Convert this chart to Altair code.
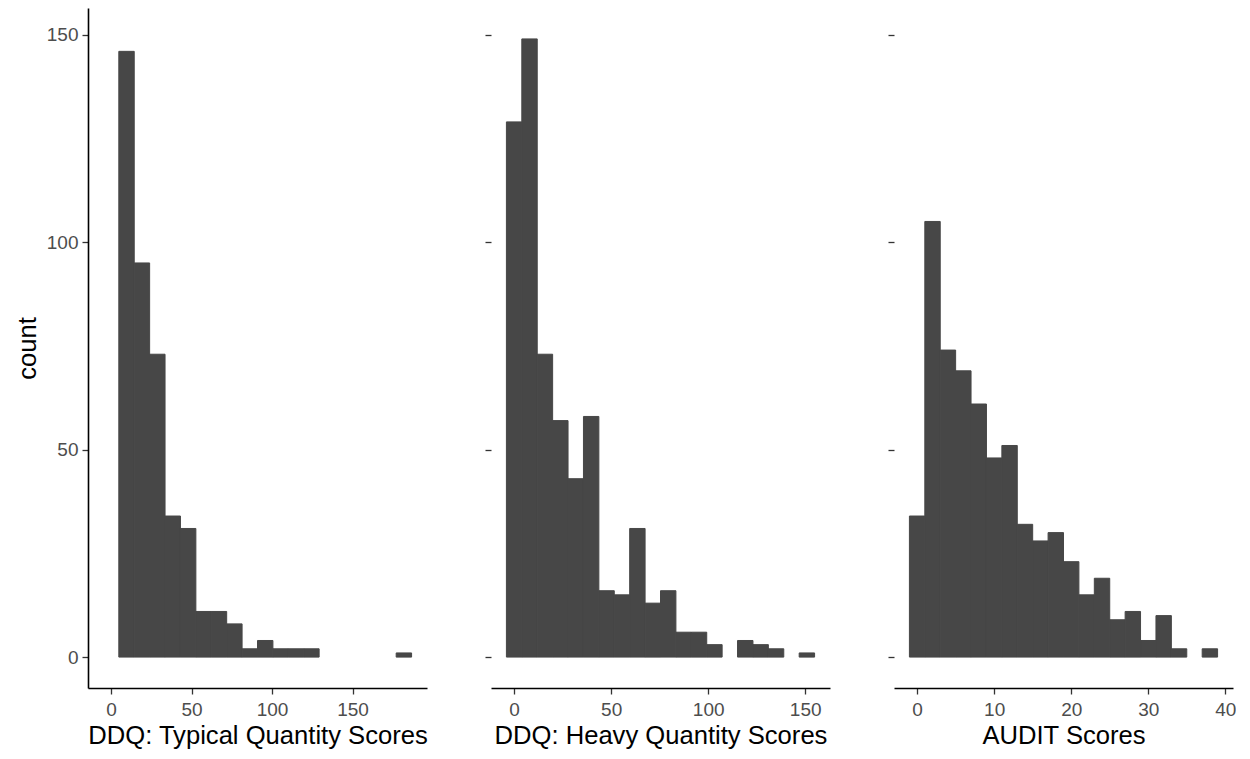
import altair as alt
import pandas as pd

# ---- data (histogram bin counts) ----
typical_counts = [0, 146, 95, 73, 34, 31, 11, 11, 8, 2, 4, 2, 2, 2, 0, 0, 0, 0, 0, 1]
typical_first_edge = -4.79
typical_bin_width = 9.575

heavy_counts = [129, 149, 73, 57, 43, 58, 16, 15, 31, 13, 16, 6, 6, 3, 0, 4, 3, 2, 0, 1]
heavy_first_edge = -3.97
heavy_bin_width = 7.94

audit_counts = [34, 105, 74, 69, 61, 48, 51, 32, 28, 30, 23, 15, 19, 9, 11, 4, 10, 2, 0, 2]
audit_first_edge = -1.0
audit_bin_width = 2.0

typical_ticks = [0, 50, 100, 150]
heavy_ticks = [0, 50, 100, 150]
audit_ticks = [0, 10, 20, 30, 40]
y_ticks = [0, 50, 100, 150]

typical_title = "DDQ: Typical Quantity Scores"
heavy_title = "DDQ: Heavy Quantity Scores"
audit_title = "AUDIT Scores"

BAR = "#474747"
FONT = "Liberation Sans"
W, H = 339, 680
Y_DOMAIN = [-7.45, 156.45]


def make_df(counts, first, width):
    return pd.DataFrame({
        "bin_start": [first + i * width for i in range(len(counts))],
        "bin_end": [first + (i + 1) * width for i in range(len(counts))],
        "count": counts,
    })


def panel(counts, first, width, title, ticks, show_y):
    df = make_df(counts, first, width)
    lo = df["bin_start"].min()
    hi = df["bin_end"].max()
    pad = 0.05 * (hi - lo)
    xdomain = [lo - pad, hi + pad]

    yaxis_kwargs = dict(values=y_ticks, ticks=True, tickSize=6, grid=False)
    if show_y:
        yaxis_kwargs.update(title="count", labels=True, domain=True,
                            labelPadding=4, titlePadding=6)
    else:
        yaxis_kwargs.update(title="", labels=False, domain=False)

    return (
        alt.Chart(df)
        .transform_filter("datum.count > 0")
        .transform_calculate(zero="0")
        .mark_rect(color=BAR, stroke=BAR, strokeWidth=1)
        .encode(
            x=alt.X("bin_start:Q",
                    scale=alt.Scale(domain=xdomain, nice=False, zero=False),
                    axis=alt.Axis(values=ticks, title=title, grid=False,
                                  tickSize=6, labelPadding=6, titlePadding=4)),
            x2="bin_end:Q",
            y=alt.Y("count:Q",
                    scale=alt.Scale(domain=Y_DOMAIN, nice=False, zero=False),
                    axis=alt.Axis(**yaxis_kwargs)),
            y2="zero:Q",
        )
        .properties(width=W, height=H)
    )


p1 = panel(typical_counts, typical_first_edge, typical_bin_width, typical_title, typical_ticks, True)
p2 = panel(heavy_counts, heavy_first_edge, heavy_bin_width, heavy_title, heavy_ticks, False)
p3 = panel(audit_counts, audit_first_edge, audit_bin_width, audit_title, audit_ticks, False)

chart = (
    alt.hconcat(p1, p2, p3, spacing=64, bounds="flush")
    .properties(padding={"left": 7, "top": 0, "right": 0, "bottom": 0},
                background="white")
    .configure_view(stroke=None)
    .configure_axis(
        labelFont=FONT, labelFontSize=19, labelColor="#4D4D4D",
        titleFont=FONT, titleFontSize=25.6, titleColor="#000000", titleFontWeight="normal",
        domainColor="#000000", domainWidth=1.6,
        tickColor="#333333", tickWidth=1.3,
    )
)

chart.save("out.html", embed_options={"renderer": "svg", "actions": False})
